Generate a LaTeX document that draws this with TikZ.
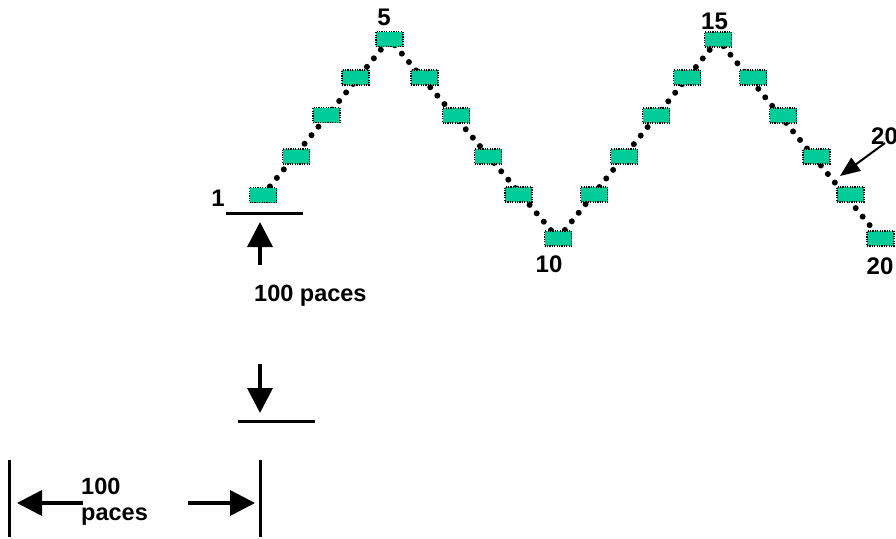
\documentclass[tikz,border=0pt]{standalone}
\usepackage{fontspec}
\setmainfont{Liberation Sans}
\usetikzlibrary{arrows.meta}
\definecolor{boxgreen}{RGB}{0,204,153}
\begin{document}
\begin{tikzpicture}[x=1pt,y=-1pt,
  paver/.style={draw=black,fill=boxgreen,line width=1.2pt,dash pattern=on 1.2pt off 1.2pt,
    minimum width=27pt,minimum height=15pt,inner sep=0pt,outer sep=0pt},
  walk/.style={line width=6pt,line cap=round,dash pattern=on 0pt off 11pt},
  bigarrow/.style={line width=3.5pt,-{Triangle[length=25pt,width=25pt]}},
  rule/.style={line width=3pt},
  numlbl/.style={font=\bfseries\fontsize{24}{26}\selectfont,inner sep=0pt},
  txtlbl/.style={font=\bfseries\fontsize{23.5}{23}\selectfont,inner sep=0pt,align=left}]
\useasboundingbox (0,0) rectangle (896,538);
% zigzag dotted path
\coordinate (v1) at (263,195);
\coordinate (v5) at (389.5,39);
\coordinate (v10) at (558,238.5);
\coordinate (v15) at (718,39.5);
\coordinate (v20) at (880.5,238.5);
\draw[walk] (v1) -- (v5) -- (v10) -- (v15) -- (v20);
% boxes
\foreach \i/\x/\y in {1/263/195,2/296/156.5,3/326.5/115,4/355.5/77.5,5/389.5/39,
  6/424.5/77.5,7/456/115.5,8/488/156.5,9/518.5/194.5,10/558/238.5,
  11/594/194.5,12/624/156.5,13/656/115.5,14/687/77.5,15/718/39.5,
  16/753/77.5,17/783/115.5,18/816.5/156.5,19/850.5/194.5,20/880.5/238.5}
  \node[paver] (b\i) at (\x,\y) {};
% number labels
\node[numlbl] (l1) at (218,198) {1};
\node[numlbl] (l5) at (384,17) {5};
\node[numlbl] (l10) at (549,264.5) {10};
\node[numlbl] (l15) at (714.5,21) {15};
\node[numlbl] (l20) at (880,266) {20};
\node[numlbl,anchor=west] (l20b) at (871,136.5) {20};
\coordinate (a20s) at (885,143);
\coordinate (a20e) at (840,176);
\draw[line width=2pt,-{Triangle[length=20pt,width=16pt]}] (a20s) -- (a20e);
% start line and 100 paces vertical
\coordinate (s1) at (226,213);
\coordinate (s2) at (303,213);
\draw[rule] (s1) -- (s2);
\coordinate (u1) at (260,265);
\coordinate (u2) at (260,222);
\draw[bigarrow] (u1) -- (u2);
\node[txtlbl,anchor=base west] (p1) at (254,301) {100 paces};
\coordinate (d1) at (260,364);
\coordinate (d2) at (260,413);
\draw[bigarrow] (d1) -- (d2);
\coordinate (t1) at (238,421);
\coordinate (t2) at (315,421);
\draw[rule] (t1) -- (t2);
% horizontal 100 paces
\coordinate (h1) at (9,460);
\coordinate (h2) at (9,537);
\coordinate (h3) at (260,460);
\coordinate (h4) at (260,537);
\draw[rule] (h1) -- (h2);
\draw[rule] (h3) -- (h4);
\coordinate (la) at (83,503);
\coordinate (lb) at (17,503);
\draw[bigarrow] (la) -- (lb);
\coordinate (ra) at (188,503);
\coordinate (rb) at (255,503);
\draw[bigarrow] (ra) -- (rb);
\node[txtlbl,anchor=north west] (p2) at (81,478) {100\\[3pt]paces};
\end{tikzpicture}
\end{document}
